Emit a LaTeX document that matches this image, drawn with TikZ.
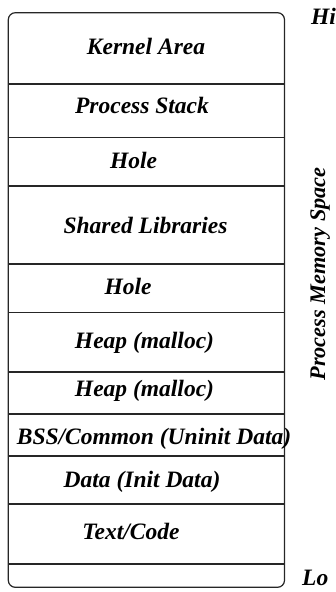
\documentclass[tikz,border=0pt]{standalone}
\usepackage{fontspec}
\setmainfont{Liberation Serif}
\begin{document}
\begin{tikzpicture}[x=1pt,y=-1pt,
  seg/.style={draw=black!85, line width=1.2pt},
  lbl/.style={anchor=base, inner sep=0pt, font=\fontsize{23.5}{28}\selectfont\bfseries\itshape}]
\useasboundingbox (0,0) rectangle (336,592);

% outer frame of the address space
\draw[seg, rounded corners=7pt] (8.3,12.7) rectangle (284.5,587.3);

% dividers between regions
\foreach \yy/\nm in {84/d1, 137.7/d2, 186/d3, 264/d4, 312.3/d5, 372/d6, 414/d7, 456/d8, 504/d9, 564/d10} {
  \coordinate (\nm l) at (8.3,\yy);
  \coordinate (\nm r) at (284.5,\yy);
  \draw[seg] (\nm l) -- (\nm r);
}

% region labels
\node[lbl] (kernel) at (146,54.3) {Kernel Area};
\node[lbl] (stack)  at (142,113)  {Process Stack};
\node[lbl] (hole1)  at (133.5,168) {Hole};
\node[lbl] (shlib)  at (145.5,233) {Shared Libraries};
\node[lbl] (hole2)  at (128,294)  {Hole};
\node[lbl] (heap1)  at (144.5,348) {Heap (malloc)};
\node[lbl] (heap2)  at (144.5,396.7) {Heap (malloc)};
\node[lbl] (bss)    at (154,444)  {BSS/Common (Uninit Data)};
\node[lbl] (data)   at (142,487)  {Data (Init Data)};
\node[lbl] (text)   at (131,539)  {Text/Code};

% side annotations
\node[lbl, anchor=base west] (hi) at (311,24) {Hi};
\node[lbl, anchor=base west] (lo) at (302,585) {Lo};
\node[lbl, rotate=90, font=\fontsize{22.3}{27}\selectfont\bfseries\itshape] (space) at (325,274) {Process Memory Space};
\end{tikzpicture}
\end{document}
